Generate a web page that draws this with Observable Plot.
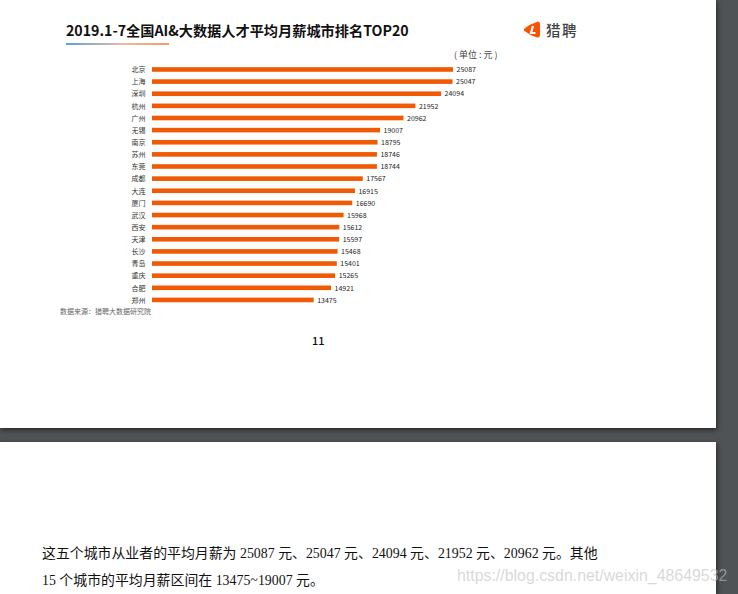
<!DOCTYPE html>
<html><head><meta charset="utf-8">
<script src="https://cdn.jsdelivr.net/npm/d3@7"></script>
<script src="https://cdn.jsdelivr.net/npm/@observablehq/plot@0.6"></script>
<style>
html,body{margin:0;padding:0;width:738px;height:594px;overflow:hidden;background:#505356;}
body{position:relative;font-family:"Noto Sans CJK SC","Noto Sans",sans-serif;}
.a{position:absolute;white-space:nowrap;}
.page{position:absolute;background:#fff;left:0;width:716px;box-shadow:1px 2px 5px rgba(0,0,0,.55);}
#chart{position:absolute;left:0;top:0;}
#chart svg{background:transparent;display:block;}
.body{font-family:"Liberation Serif","Noto Sans CJK SC",serif;font-size:13.9px;color:#111;line-height:20px;}
</style></head><body>
<div class="page" style="top:0;height:428px"></div>
<div class="page" style="top:442px;height:152px"></div>
<div id="chart"></div>
<div class="a" id="title" style="left:66px;top:20px;font-size:14.2px;font-weight:700;color:#111;line-height:20px"></div>
<div class="a" style="left:66px;top:43px;width:103px;height:2px;background:linear-gradient(90deg,#5b9fe6,#f0b8a0 55%,#f79a62)"></div>
<svg class="a" style="left:522px;top:20px" width="20" height="20" viewBox="0 0 20 20">
<path d="M16 1.5 Q18 1.5 18 4 L18 15 Q18 18 15 17.5 Q8 15.5 2.5 11 Q1 10 2.5 8.5 Q8 4 16 1.5Z" fill="#fb5200"/>
<path d="M11 6 L9 13 L13.5 13" fill="none" stroke="#fff" stroke-width="2.2"/>
</svg>
<div class="a" style="left:546px;top:20px;font-size:14.5px;font-weight:500;color:#444;line-height:20px;letter-spacing:1.5px">猎聘</div>
<div class="a" style="left:454px;top:49px;font-size:9px;color:#444;line-height:12px">( 单位 : 元 )</div>
<div class="a" style="left:60px;top:305px;font-size:7px;color:#666;line-height:12px">数据来源：猎聘大数据研究院</div>
<div class="a" style="left:312px;top:332px;font-size:11px;font-weight:500;color:#111;line-height:16px">11</div>
<div class="a body" style="left:42px;top:544px">这五个城市从业者的平均月薪为 25087 元、25047 元、24094 元、21952 元、20962 元。其他</div>
<div class="a body" style="left:42px;top:571px">15 个城市的平均月薪区间在 13475~19007 元。</div>
<div class="a" style="left:457px;top:566px;font-family:'Liberation Sans',sans-serif;font-size:15.9px;color:rgba(190,190,190,.6);line-height:20px">https://blog.csdn.net/weixin_48649532</div>
<script>
const chartTitle = "2019.1-7全国AI&大数据人才平均月薪城市排名TOP20";
const cities = ["北京","上海","深圳","杭州","广州","无锡","南京","苏州","东莞","成都","大连","厦门","武汉","西安","天津","长沙","青岛","重庆","合肥","郑州"];
const salaries = [25087,25047,24094,21952,20962,19007,18795,18746,18744,17567,16915,16690,15968,15612,15597,15468,15401,15265,14921,13475];
document.getElementById("title").textContent = chartTitle;
const rows = cities.map((city,i)=>({city,salary:salaries[i]}));
const font = '"Noto Sans CJK SC","Noto Sans",sans-serif';
const chart = Plot.plot({
  width:738,height:594,
  marginLeft:152,marginRight:285,marginTop:63.4,marginBottom:288,
  style:{background:"transparent",fontFamily:font},
  x:{domain:[0,25087],axis:null},
  y:{domain:cities,paddingInner:0.62,paddingOuter:0.31,round:false,label:null,axis:null},
  marks:[
    Plot.barX(rows,{x:"salary",y:"city",fill:"#f05a05"}),
    Plot.text(rows,{x:0,y:"city",text:"city",textAnchor:"end",dx:-7,fontSize:7,fill:"#333"}),
    Plot.text(rows,{x:"salary",y:"city",text:d=>String(d.salary),textAnchor:"start",dx:3,fontSize:7,fill:"#222"})
  ]
});
document.getElementById("chart").appendChild(chart);
</script>
</body></html>
